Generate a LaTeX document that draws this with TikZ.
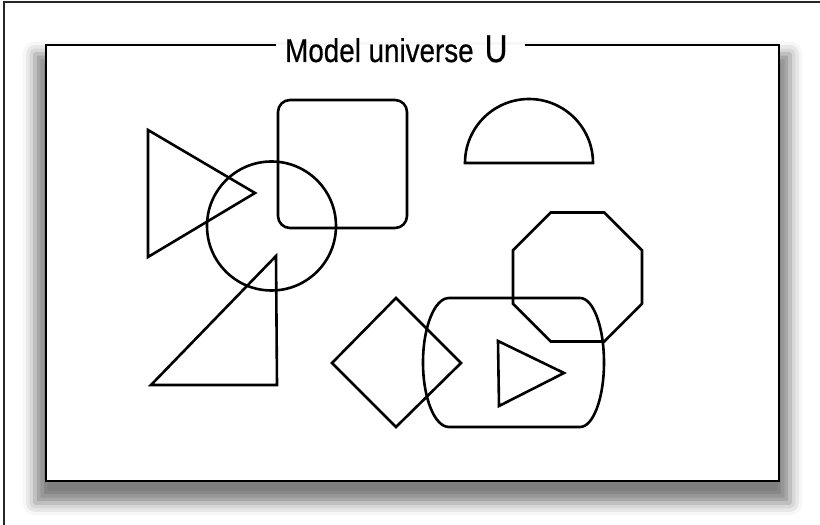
\documentclass[tikz,border=0pt]{standalone}
\usepackage{fontspec}
\setmainfont{Liberation Sans}
\newfontfamily\titlefont{Liberation Sans}[FakeBold=0.6]
\usetikzlibrary{shadows.blur}

\begin{document}
\begin{tikzpicture}[x=1pt, y=1pt,
  figline/.style={line width=2.6pt, line join=miter},
  boxline/.style={line width=2.4pt, line join=miter}]

\useasboundingbox (0,0) rectangle (820,525);

% Page edges
\draw[line width=1.4pt, black!85] (4,0) -- (4,523) -- (820,523);

% Universe box with shadow
\fill[white, blur shadow={shadow xshift=0pt, shadow yshift=-15pt, shadow blur radius=12pt, shadow opacity=50, shadow scale=1.03}] (46,44) rectangle (779,480);
\coordinate (gapL) at (276,480);
\coordinate (gapR) at (525,480);
\draw[boxline] (gapL) -- (46,480) -- (46,44) -- (779,44) -- (779,480) -- (gapR);

% Title
\node[anchor=base west, inner sep=0] (title) at (285,463)
  {\titlefont\fontsize{27.8}{30}\selectfont\scalebox{1}[1.18]{Model universe}\hspace{11pt}\fontsize{37}{40}\selectfont\scalebox{0.85}[1.05]{U}};

% Shapes
\draw[figline] (148,395) -- (148,268) -- (255,332) -- cycle;
\draw[figline] (271.5,299) circle[radius=64.5];
\draw[figline, rounded corners=12pt] (278,425) rectangle (407,297);
\draw[figline] (276,269) -- (151,140) -- (277,140) -- cycle;
\draw[figline] (465,362) arc[start angle=180, end angle=0, radius=64] -- cycle;
\draw[figline, shift={(577.5,248)}] (22.5:69.8) -- (67.5:69.8) -- (112.5:69.8) -- (157.5:69.8)
  -- (202.5:69.8) -- (247.5:69.8) -- (292.5:69.8) -- (337.5:69.8) -- cycle;
\draw[figline] (396,227) -- (332,162) -- (396,98) -- (461,162) -- cycle;
\draw[figline] (449,227) -- (580,227) arc[start angle=90, end angle=-90, x radius=24, y radius=64.5]
  -- (449,98) arc[start angle=270, end angle=90, x radius=26, y radius=64.5] -- cycle;
\draw[figline] (498,184) -- (499,119) -- (564,152) -- cycle;

\end{tikzpicture}
\end{document}
